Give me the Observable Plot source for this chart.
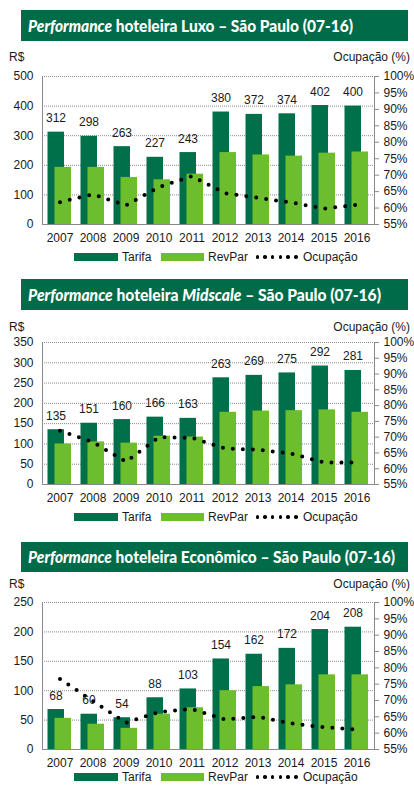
<!DOCTYPE html>
<html><head><meta charset="utf-8">
<script src="https://cdn.jsdelivr.net/npm/d3@7"></script>
<script src="https://cdn.jsdelivr.net/npm/@observablehq/plot@0.6"></script>
<style>
body{margin:0;background:#fff;font-family:"Liberation Sans",Arial,sans-serif;}
#root{position:relative;width:414px;height:785px;overflow:hidden;}
.banner{position:absolute;left:21px;width:387px;background:#006b48;color:#fff;font-family:Lato,"DejaVu Sans",sans-serif;font-weight:900;font-size:16px;box-sizing:border-box;padding-left:7px;white-space:nowrap;overflow:hidden;}
.banner span{display:inline-block;transform-origin:left center;}
.lab{position:absolute;font-size:12px;line-height:14px;color:#1a1a1a;white-space:nowrap;}
.plotwrap{position:absolute;left:0;}
.sw{position:absolute;height:8px;}
.ld{position:absolute;width:3.6px;height:3.6px;border-radius:50%;background:#000;}
</style>
</head><body><div id="root"></div>
<script>
const years = ["2007","2008","2009","2010","2011","2012","2013","2014","2015","2016"];

const luxoTarifa = [312,298,263,227,243,380,372,374,402,400];
const luxoRevPar = [193,193,159,151,170,243,235,231,241,245];
const luxoOcup   = [61.8,64.2,60.8,66.4,69.7,64.5,63.1,61.7,59.8,61.0];

const midTarifa = [135,151,160,166,163,263,269,275,292,281];
const midRevPar = [100,105,102,119,117,178,181,182,184,178];
const midOcup   = [72.0,68.4,62.2,70.0,69.8,66.4,66.0,64.8,62.0,62.0];

const ecoTarifa = [68,60,54,88,103,154,162,172,204,208];
const ecoRevPar = [53,43,36,60,71,100,107,110,127,127];
const ecoOcup   = [76.6,69.8,63.2,66.5,67.4,64.2,65.0,63.0,61.8,61.1];

const luxoTicks = [0,100,200,300,400,500];
const midTicks  = [0,50,100,150,200,250,300,350];
const ecoTicks  = [0,50,100,150,200,250];
const ocupTicks = [55,60,65,70,75,80,85,90,95,100];

const titles = [
  ["Performance"," hoteleira Luxo – São Paulo (07-16)", false],
  ["Performance"," hoteleira ", "Midscale", " – São Paulo (07-16)"],
  ["Performance"," hoteleira Econômico – São Paulo (07-16)", false]
];
const legendLabels = ["Tarifa","RevPar","Ocupação"];

const DARK = "#00704a", LIGHT = "#6cbe2c", AXIS = "#8a8a8a";
const root = document.getElementById("root");

function chart(tarifa, revpar, ocup, ticks, plotH) {
  const max = ticks[ticks.length - 1];
  const toLeft = p => (p - 55) / 45 * max;
  const data = years.map((y, i) => ({year: y, tarifa: tarifa[i], revpar: revpar[i], ocup: ocup[i]}));
  return Plot.plot({
    width: 414, height: 10 + plotH + 24,
    marginTop: 10, marginBottom: 24, marginLeft: 42, marginRight: 40,
    style: {fontFamily: '"Liberation Sans", Arial, sans-serif', fontSize: "12px", color: "#1a1a1a", background: "transparent", overflow: "visible"},
    x: {type: "band", domain: years, padding: 0},
    y: {domain: [0, max]},
    marks: [
      Plot.gridY(ticks.slice(1), {stroke: AXIS, strokeOpacity: 1, strokeDasharray: "1,1"}),
      Plot.barY(data, {x: "year", y: "tarifa", fill: DARK, insetLeft: 4.5, insetRight: 12}),
      Plot.barY(data, {x: "year", y: "revpar", fill: LIGHT, insetLeft: 11.5, insetRight: 5}),
      Plot.ruleY([0], {stroke: AXIS}),
      Plot.frame({anchor: "left", stroke: AXIS}),
      Plot.frame({anchor: "right", stroke: AXIS}),
      Plot.axisY(ticks, {anchor: "left", tickSize: 0, tickPadding: 9, label: null}),
      Plot.axisY(ocupTicks.map(toLeft), {anchor: "right", tickSize: 4, tickPadding: 5, stroke: AXIS, label: null,
        tickFormat: v => Math.round(v / max * 45 + 55) + "%"}),
      Plot.axisX({tickSize: 0, tickPadding: 9, label: null}),
      Plot.text(data, {x: "year", y: "tarifa", text: d => String(d.tarifa), dx: -4, dy: -10, lineAnchor: "bottom", fill: "#1a1a1a"}),
      Plot.line(data, {x: "year", y: d => toLeft(d.ocup), stroke: "#000", strokeWidth: 4, strokeDasharray: "0,10", strokeLinecap: "round"})
    ]
  });
}

function banner(top, h, parts, target) {
  const b = document.createElement("div");
  b.className = "banner";
  b.style.top = top + "px"; b.style.height = h + "px"; b.style.lineHeight = h + "px";
  const s = document.createElement("span");
  const p = parts.filter(x => x !== false);
  p.forEach((t, i) => {
    if (i % 2 === 0) { const it = document.createElement("i"); it.textContent = t; s.appendChild(it); }
    else s.appendChild(document.createTextNode(t));
  });
  b.appendChild(s);
  root.appendChild(b);
  const w = s.getBoundingClientRect().width;
  s.style.transform = `scaleX(${target / w})`;
}

function label(text, left, top, right) {
  const d = document.createElement("div");
  d.className = "lab"; d.textContent = text; d.style.top = top + "px";
  if (right != null) d.style.right = right + "px"; else d.style.left = left + "px";
  root.appendChild(d);
}

function legend(top) {
  const sw1 = document.createElement("div"); sw1.className = "sw";
  Object.assign(sw1.style, {left: "74px", width: "44px", top: top + "px", background: DARK});
  const sw2 = document.createElement("div"); sw2.className = "sw";
  Object.assign(sw2.style, {left: "161px", width: "43px", top: top + "px", background: LIGHT});
  root.appendChild(sw1); root.appendChild(sw2);
  for (let i = 0; i < 6; i++) {
    const d = document.createElement("div"); d.className = "ld";
    d.style.left = (255.5 + i * 7.7) + "px"; d.style.top = (top + 2.2) + "px";
    root.appendChild(d);
  }
  label(legendLabels[0], 122, top - 3);
  label(legendLabels[1], 208, top - 3);
  label(legendLabels[2], 303, top - 3);
}

function place(svg, top) {
  const w = document.createElement("div"); w.className = "plotwrap"; w.style.top = top + "px";
  w.appendChild(svg); root.appendChild(w);
}

// Panel 1
banner(10, 31, titles[0], 325);
label("R$", 9, 50); label("Ocupação (%)", null, 50, 4);
place(chart(luxoTarifa, luxoRevPar, luxoOcup, luxoTicks, 148), 66);
legend(253);

// Panel 2
banner(279, 31, titles[1], 353);
label("R$", 9, 320); label("Ocupação (%)", null, 320, 4);
place(chart(midTarifa, midRevPar, midOcup, midTicks, 142), 332);
legend(513);

// Panel 3
banner(542, 30, titles[2], 367);
label("R$", 9, 577); label("Ocupação (%)", null, 577, 4);
place(chart(ecoTarifa, ecoRevPar, ecoOcup, ecoTicks, 147), 592);
legend(773);
</script>
</body></html>
